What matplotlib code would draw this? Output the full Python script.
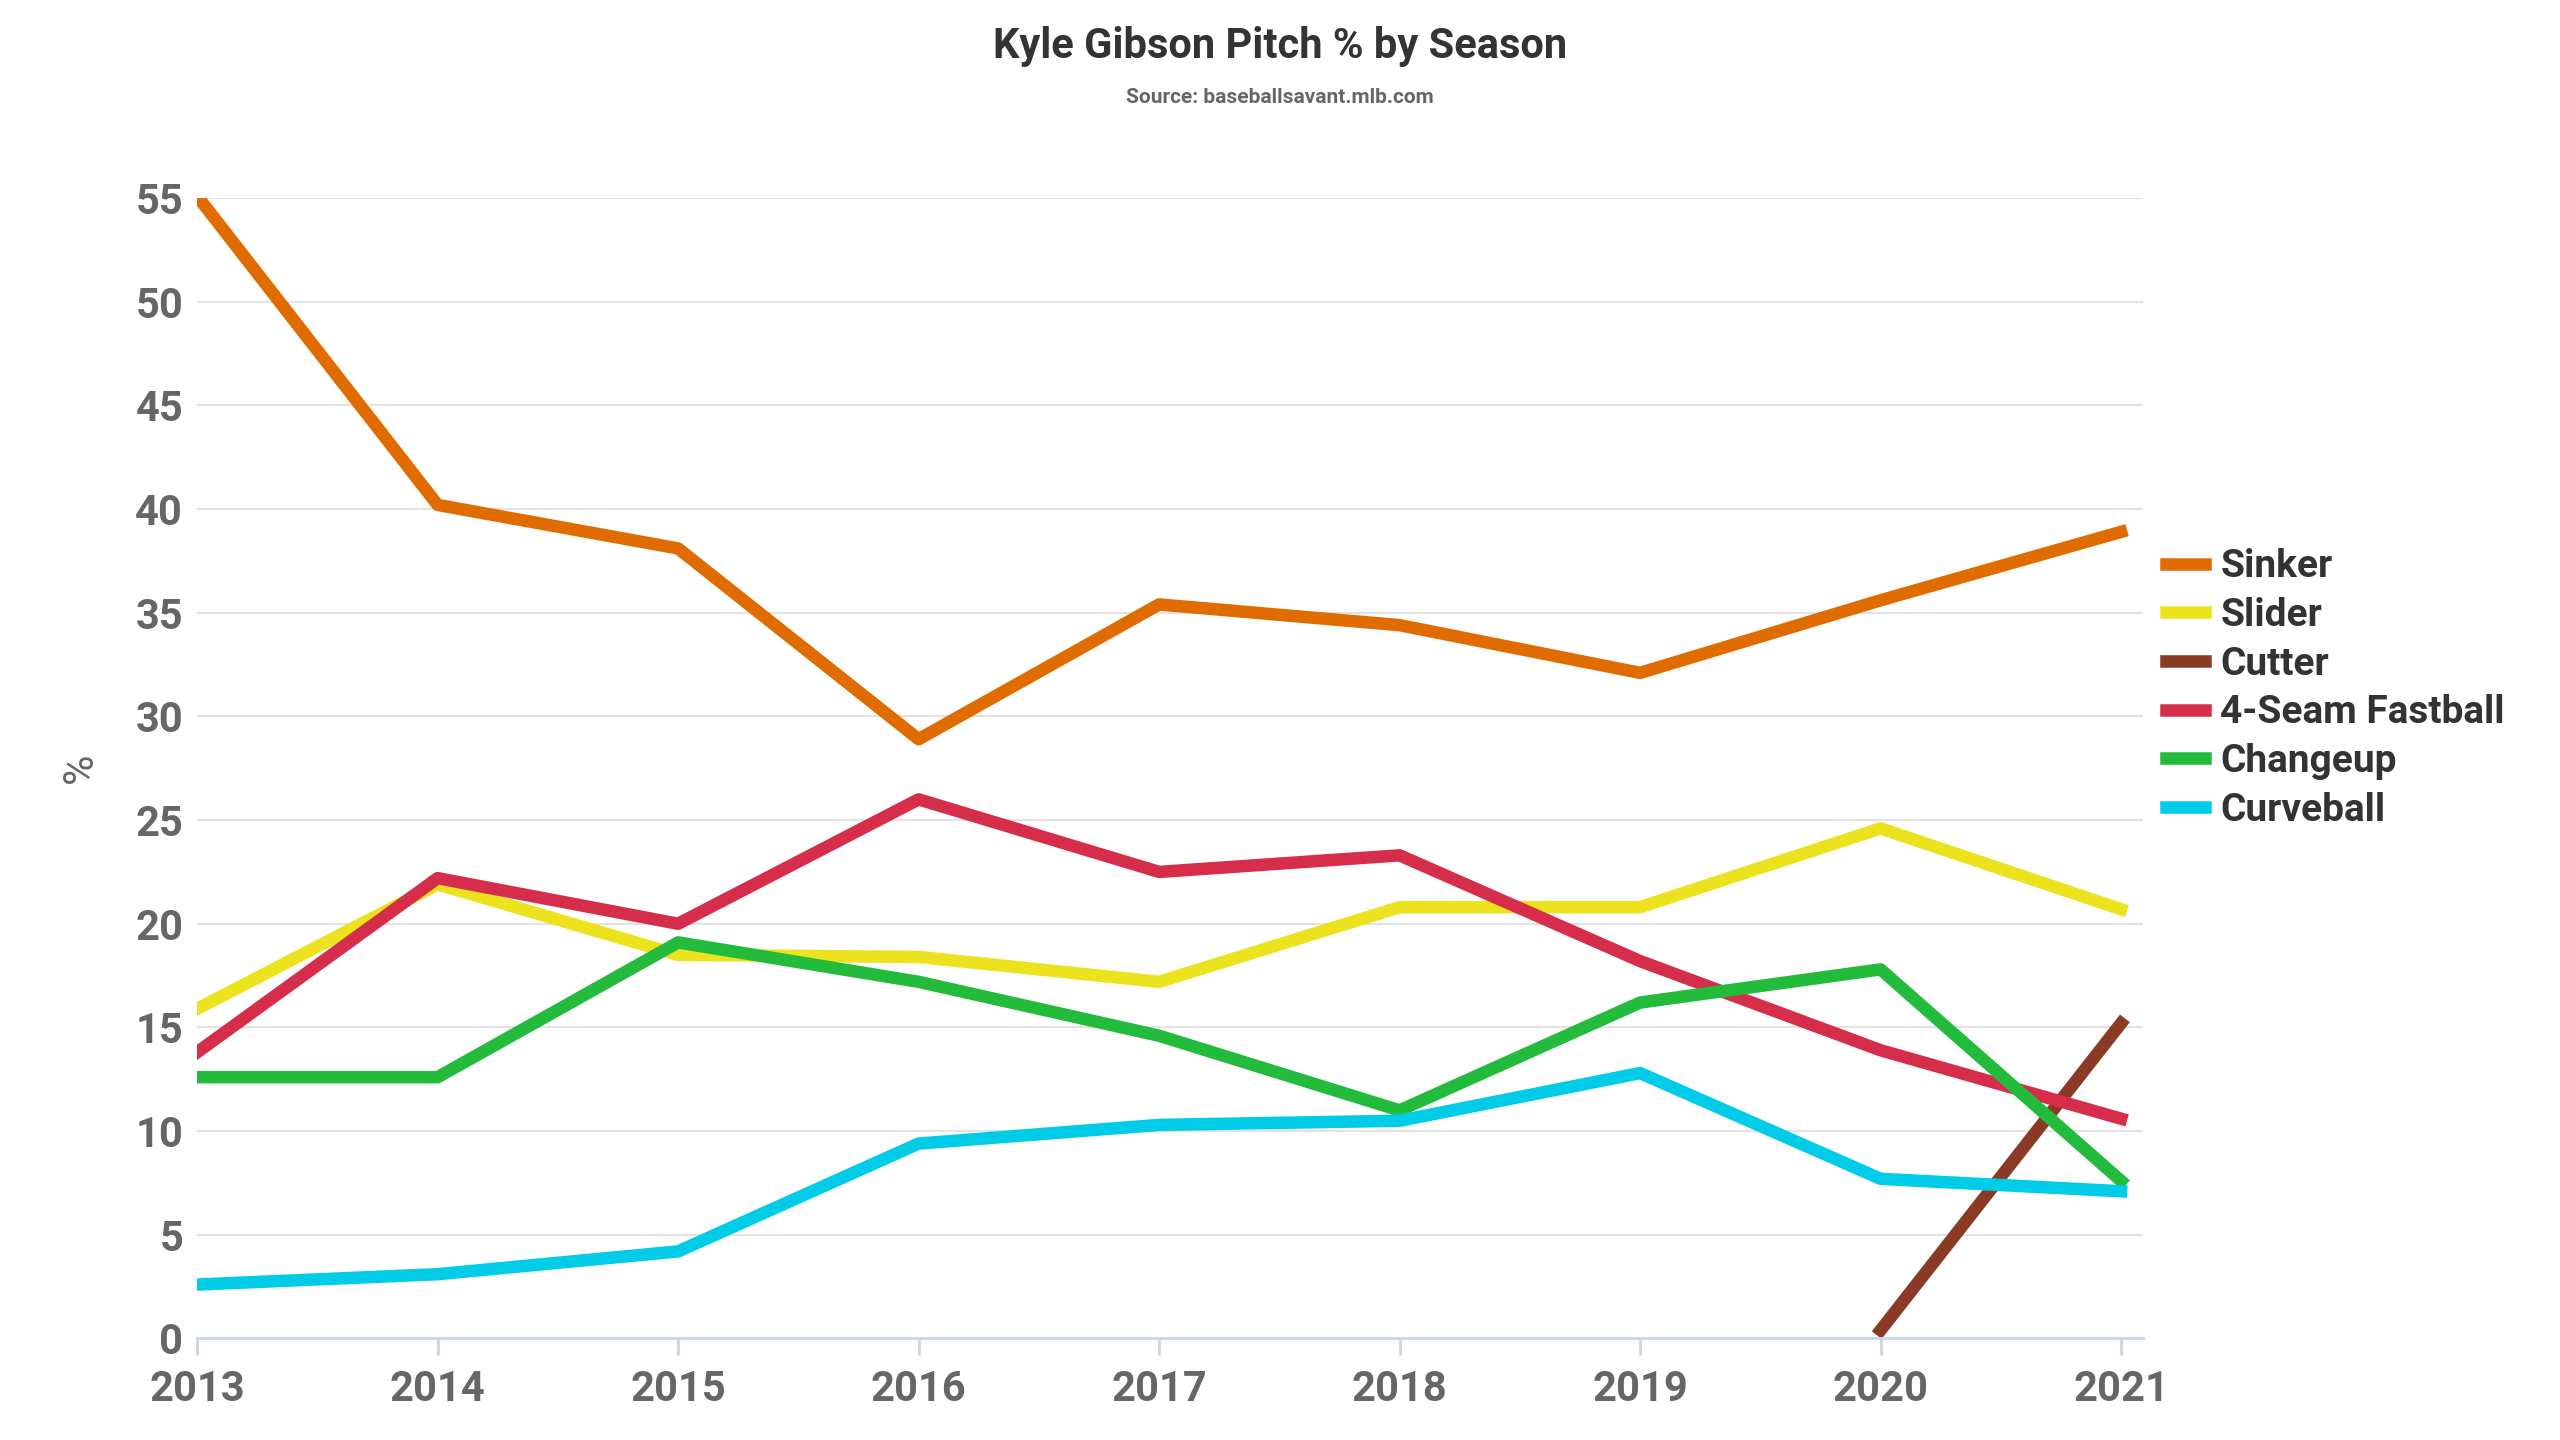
import matplotlib
matplotlib.use("Agg")
import matplotlib.pyplot as plt

years = [2013, 2014, 2015, 2016, 2017, 2018, 2019, 2020, 2021]
sinker = [55.1, 40.2, 38.1, 28.9, 35.4, 34.4, 32.1, 35.6, 38.9]
slider = [15.9, 21.9, 18.5, 18.4, 17.2, 20.8, 20.8, 24.6, 20.7]
cutter_years = [2020, 2021]
cutter = [0.4, 15.2]
fourseam = [13.8, 22.2, 20.0, 26.0, 22.5, 23.3, 18.2, 13.9, 10.6]
changeup = [12.6, 12.6, 19.1, 17.2, 14.6, 11.0, 16.2, 17.8, 7.6]
curveball = [2.6, 3.1, 4.2, 9.4, 10.3, 10.5, 12.8, 7.7, 7.1]

plt.rcParams['font.family'] = ['Roboto', 'DejaVu Sans']
plt.rcParams['font.weight'] = 'bold'

fig = plt.figure(figsize=(25.6, 14.4), dpi=100)
ax = fig.add_axes([0.077, 0.0705, 0.76, 0.792])

lw = 9
ax.plot(years, sinker, color='#E06C00', lw=lw, label='Sinker')
ax.plot(years, slider, color='#ECE21E', lw=lw, label='Slider')
ax.plot(cutter_years, cutter, color='#8B3A26', lw=lw, label='Cutter')
ax.plot(years, fourseam, color='#D62E4A', lw=lw, label='4-Seam Fastball')
ax.plot(years, changeup, color='#22BB3B', lw=lw, label='Changeup')
ax.plot(years, curveball, color='#00CCE8', lw=lw, label='Curveball')

ax.set_xlim(2013, 2021.09)
ax.set_ylim(0, 55)
ax.set_yticks(range(0, 56, 5))
ax.set_xticks(years)
ax.grid(axis='y', color='#e3e3e3', lw=1.5)
ax.set_axisbelow(True)
for s in ['top', 'right', 'left']:
    ax.spines[s].set_visible(False)
ax.spines['bottom'].set_color('#ccd6eb')
ax.spines['bottom'].set_linewidth(2)
ax.tick_params(axis='both', labelsize=30, colors='#666666', length=0, pad=10)
ax.tick_params(axis='x', length=12, color='#ccd6eb', width=2)
ax.set_ylabel('%', fontsize=30, color='#666666', labelpad=25)

fig.text(0.5, 0.968, 'Kyle Gibson Pitch % by Season', ha='center', va='center',
         fontsize=30, color='#333333', fontweight='bold')
fig.text(0.5, 0.932, 'Source: baseballsavant.mlb.com', ha='center', va='center',
         fontsize=15, color='#666666', fontweight='bold')

leg = ax.legend(loc='center left', bbox_to_anchor=(1.0, 0.57), frameon=False,
                fontsize=28, handlelength=1.0, handletextpad=0.4, labelspacing=0.3,
                borderaxespad=0.2)
for t in leg.get_texts():
    t.set_color('#333333')

fig.savefig('out.png', dpi=100)
